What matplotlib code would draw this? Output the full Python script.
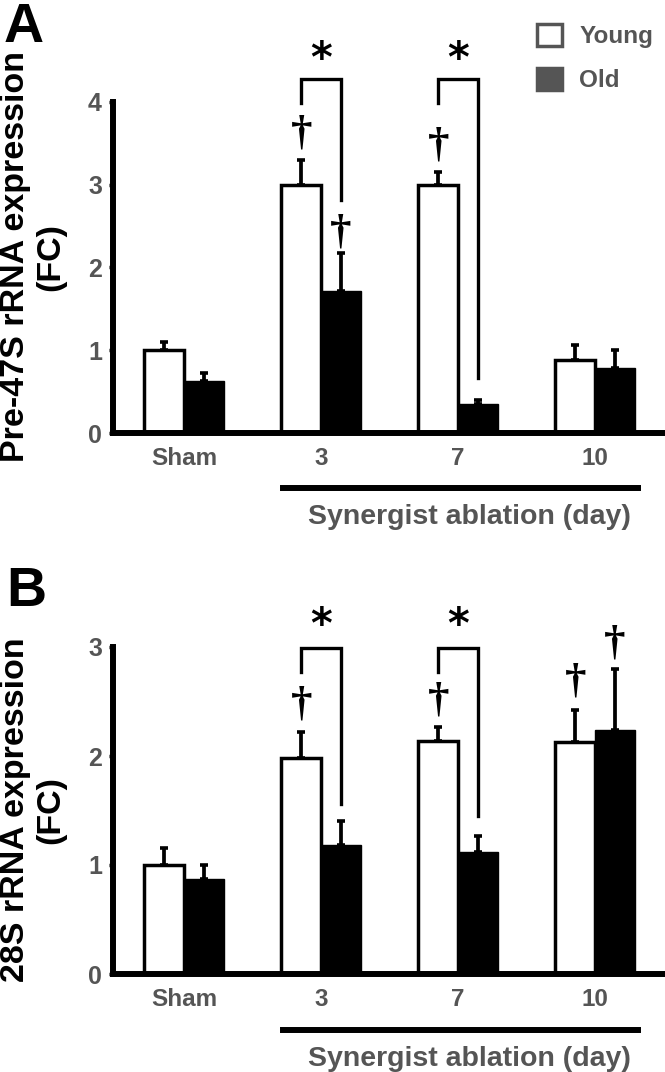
import matplotlib
matplotlib.use("Agg")
import matplotlib.pyplot as plt
from matplotlib.patches import Patch
import numpy as np

plt.rcParams['font.family'] = ['Liberation Sans', 'DejaVu Sans']

# ---------------- data ----------------
groups = ["Sham", "3", "7", "10"]

# Panel A: Pre-47S rRNA
a_young = [1.00, 2.99, 2.99, 0.88]
a_young_err = [0.10, 0.31, 0.16, 0.18]
a_old = [0.63, 1.72, 0.35, 0.79]
a_old_err = [0.10, 0.45, 0.05, 0.21]

# Panel B: 28S rRNA
b_young = [1.00, 1.98, 2.14, 2.13]
b_young_err = [0.16, 0.24, 0.13, 0.29]
b_old = [0.87, 1.18, 1.12, 2.24]
b_old_err = [0.13, 0.22, 0.15, 0.56]

# significance annotations (group index, left-leg bottom, right-leg bottom, bracket top, star y)
a_brackets = [(1, 3.98, 2.81, 4.27, 4.50), (2, 3.98, 0.67, 4.27, 4.50)]
b_brackets = [(1, 2.77, 1.56, 2.99, 3.19), (2, 2.77, 1.45, 2.99, 3.19)]
# daggers: (group index, series 0=young 1=old, y)
a_daggers = [(1, 0, 3.62), (1, 1, 2.42), (2, 0, 3.47)]
b_daggers = [(1, 0, 2.47), (2, 0, 2.51), (3, 0, 2.68), (3, 1, 3.03)]

W, H = 665, 1072
fig = plt.figure(figsize=(W / 100, H / 100), dpi=100)

GRAY = '#555555'
bw = 0.29
x = np.arange(len(groups))


def panel(rect, young, yerr, old, oerr, ymax, brackets, daggers):
    ax = fig.add_axes(rect)
    ax.bar(x - bw / 2, young, bw, color='white', edgecolor='black', linewidth=2.5, zorder=2)
    ax.bar(x + bw / 2, old, bw, color='black', edgecolor='black', linewidth=1.0, zorder=2)
    ax.errorbar(x - bw / 2, young, yerr=[np.zeros(len(young)), yerr], fmt='none',
                ecolor='black', elinewidth=2.7, capsize=3, capthick=2.6, zorder=1)
    ax.errorbar(x + bw / 2, old, yerr=[np.zeros(len(old)), oerr], fmt='none',
                ecolor='black', elinewidth=2.7, capsize=3, capthick=2.6, zorder=1)
    ax.set_xlim(-0.518, 3.51)
    ax.set_ylim(0, ymax)
    ax.set_yticks(range(ymax + 1))
    ax.set_xticks(x)
    ax.set_xticklabels(groups)
    for s in ['top', 'right']:
        ax.spines[s].set_visible(False)
    for s in ['left', 'bottom']:
        ax.spines[s].set_linewidth(4.3)
        ax.spines[s].set_capstyle('projecting')
        ax.spines[s].set_zorder(3)
    ax.tick_params(axis='x', length=0, pad=10, labelsize=17.5, labelcolor=GRAY)
    ax.tick_params(axis='y', length=3, width=2.5, pad=5, labelsize=18, labelcolor=GRAY)
    for lab in ax.get_xticklabels() + ax.get_yticklabels():
        lab.set_fontweight('bold')
    for g, lb, rb, top, sy in brackets:
        xl, xr = g - bw / 2, g + bw / 2
        ax.plot([xl, xl, xr, xr], [lb, top, top, rb], color='black', lw=2.4,
                clip_on=False, solid_joinstyle='miter', zorder=4)
        ax.text(g, sy, '*', ha='center', va='center', fontsize=30, fontweight='bold',
                family='DejaVu Sans', clip_on=False)
    for g, s, yv in daggers:
        xx = g - bw / 2 if s == 0 else g + bw / 2
        ax.text(xx, yv, '\u2020', ha='center', va='center', fontsize=31, fontweight='bold',
                family=['Liberation Serif', 'DejaVu Serif'], clip_on=False)
    return ax


axA = panel([113 / W, 1 - 433 / H, 1 - 113 / W, (433 - 101.7) / H],
            a_young, a_young_err, a_old, a_old_err, 4, a_brackets, a_daggers)
axB = panel([113 / W, 1 - 974 / H, 1 - 113 / W, (974 - 647) / H],
            b_young, b_young_err, b_old, b_old_err, 3, b_brackets, b_daggers)

# group underline and label
for ax, ly, ty in [(axA, 488, 517), (axB, 1030, 1059)]:
    fig.add_artist(plt.Line2D([283 / W, 638 / W], [1 - ly / H, 1 - ly / H], color='black', lw=4.3))
    fig.text(469 / W, 1 - ty / H, 'Synergist ablation (day)', ha='center', va='center',
             fontsize=20.5, fontweight='bold', color=GRAY)

fig.text(33 / W, 1 - 257 / H, 'Pre-47S rRNA expression\n(FC)', rotation=90, ha='center',
         va='center', fontsize=24.5, fontweight='bold', linespacing=1.15)
fig.text(33 / W, 1 - 810 / H, '28S rRNA expression\n(FC)', rotation=90, ha='center',
         va='center', fontsize=24.5, fontweight='bold', linespacing=1.15)

fig.text(4 / W, 1 - 2 / H, 'A', ha='left', va='top', fontsize=40, fontweight='bold')
fig.text(6 / W, 1 - 566 / H, 'B', ha='left', va='top', fontsize=40, fontweight='bold')

handles = [Patch(facecolor='white', edgecolor=GRAY, linewidth=2.5, label='Young'),
           Patch(facecolor=GRAY, edgecolor=GRAY, linewidth=2.5, label='Old')]
fig.legend(handles=handles, loc='upper left', bbox_to_anchor=(527 / W, 1 - 14 / H),
           frameon=False, prop={'weight': 'bold', 'size': 17.5}, labelcolor=GRAY,
           handlelength=1.05, handleheight=1.05, labelspacing=0.8, handletextpad=0.7,
           borderaxespad=0)

fig.savefig('out.png', dpi=100)
